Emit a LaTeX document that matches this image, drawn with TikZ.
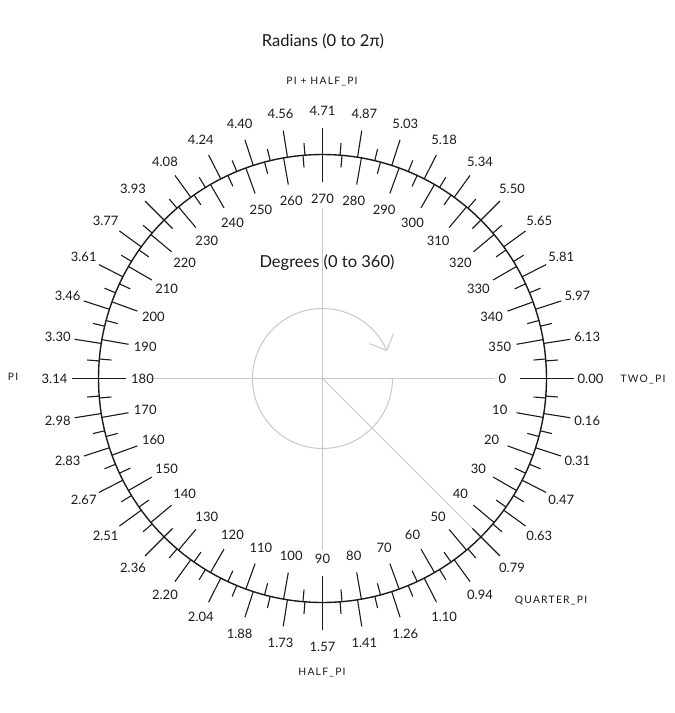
\documentclass[tikz,border=0pt]{standalone}
\usepackage{fontspec}
\setmainfont{Lato}
\newfontfamily\capsfont[LetterSpace=12]{Lato}
\usetikzlibrary{arrows.meta}
\definecolor{ink}{HTML}{1A1A1A}
\definecolor{pencil}{HTML}{C8C8C8}
\tikzset{
  ring/.style={draw=ink, line width=1.4pt},
  tickline/.style={draw=ink, line width=1.1pt},
  guide/.style={draw=pencil, line width=1pt},
  deglabel/.style={font=\fontsize{13}{15}\selectfont, text=ink, inner sep=0pt},
  radlabel/.style={font=\fontsize{13}{15}\selectfont, text=ink, inner sep=0pt},
  constlabel/.style={font=\capsfont\fontsize{10.3}{12}\selectfont, text=ink, inner sep=0pt},
  titlelabel/.style={font=\fontsize{16.5}{19}\selectfont, text=ink, inner sep=0pt}
}
\begin{document}
\begin{tikzpicture}[x=1pt,y=1pt]
\useasboundingbox (0,0) rectangle (675,-713);
\coordinate (c) at (322.5,-378.5);
% pencil guides
\coordinate (hl) at (150,-378.5);
\coordinate (hr) at (495,-378.5);
\coordinate (vt) at (322.5,-208);
\coordinate (vb) at (322.5,-550);
\coordinate (dg) at ([shift={(-45:212)}]c);
\draw[guide] (hl) -- (hr);
\draw[guide] (vt) -- (vb);
\draw[guide] (c) -- (dg);
\coordinate (arcstart) at ([shift={(0:70)}]c);
\draw[guide, -{Straight Barb[length=13pt,width=26pt,line width=1pt]}] (arcstart) arc[start angle=0, end angle=-337, radius=70];
% main circle
\draw[ring] (c) circle[radius=224];
% degree ticks and labels
\foreach \d in {0,10,...,350} {
  \draw[tickline] ([shift={(-\d:197)}]c) -- ([shift={(-\d:224)}]c);
  \draw[tickline] ([shift={(-\d-5:212)}]c) -- ([shift={(-\d-5:224)}]c);
  \node[deglabel] (deg\d) at ([shift={(-\d:180)}]c) {\d};
}
% radian ticks and labels
\foreach \k/\t in {0/0.00,1/0.16,2/0.31,3/0.47,4/0.63,5/0.79,6/0.94,7/1.10,8/1.26,9/1.41,
  10/1.57,11/1.73,12/1.88,13/2.04,14/2.20,15/2.36,16/2.51,17/2.67,18/2.83,19/2.98,
  20/3.14,21/3.30,22/3.46,23/3.61,24/3.77,25/3.93,26/4.08,27/4.24,28/4.40,29/4.56,
  30/4.71,31/4.87,32/5.03,33/5.18,34/5.34,35/5.50,36/5.65,37/5.81,38/5.97,39/6.13} {
  \pgfmathsetmacro\a{-9*\k}
  \pgfmathsetmacro\b{-9*\k-4.5}
  \draw[tickline] ([shift={(\a:224)}]c) -- ([shift={(\a:251)}]c);
  \draw[tickline] ([shift={(\b:224)}]c) -- ([shift={(\b:236)}]c);
  \node[radlabel] (rad\k) at ([shift={(\a:268)}]c) {\t};
}
% constants and titles
\node[titlelabel] (title) at (323,-41) {Radians (0 to 2π)};
\node[titlelabel] (degtitle) at (327,-263) {Degrees (0 to 360)};
\node[constlabel] (pihalf) at (322,-82) {PI + HALF\_PI};
\node[constlabel] (pi) at (13,-377) {PI};
\node[constlabel] (twopi) at (643,-379) {TWO\_PI};
\node[constlabel] (halfpi) at (322,-673) {HALF\_PI};
\node[constlabel] (quarterpi) at (551,-601) {QUARTER\_PI};
\end{tikzpicture}
\end{document}
